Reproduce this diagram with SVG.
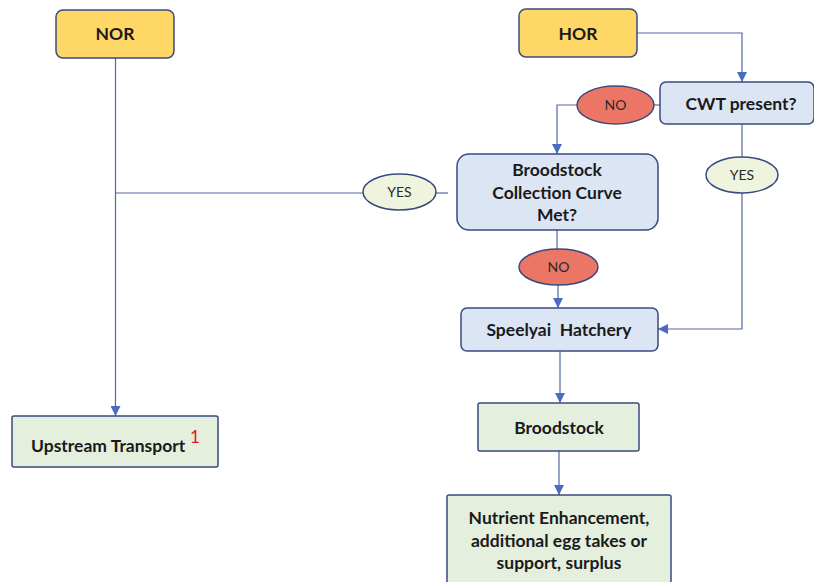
<svg xmlns="http://www.w3.org/2000/svg" width="814" height="582" viewBox="0 0 814 582">
<defs>
<marker id="ah" viewBox="0 0 10 10" refX="10" refY="5" markerWidth="10" markerHeight="10" markerUnits="userSpaceOnUse" orient="auto">
<path d="M0,0 L10,5 L0,10 z" fill="#4A6BC0"/>
</marker>
<style>
.t{font-family:Lato,"Open Sans","Liberation Sans",sans-serif;font-weight:bold;font-size:17.5px;fill:#1a1a1a;text-anchor:middle}
.s{font-family:Lato,"Open Sans","Liberation Sans",sans-serif;font-size:14px;fill:#2a2a2a;text-anchor:middle}
.y{fill:#FFD766;stroke:#3A4A80;stroke-width:1.5}
.b{fill:#DCE5F4;stroke:#3A4A80;stroke-width:1.5}
.g{fill:#E4EFDD;stroke:#3A4A80;stroke-width:1.5}
.no{fill:#EB7665;stroke:#3A4A80;stroke-width:1.5}
.yes{fill:#EEF4DE;stroke:#3A4A80;stroke-width:1.5}
.c{fill:none;stroke:#5566A8;stroke-width:1.2}
</style>
</defs>
<g id="connectors">
<path class="c" d="M115.5,58 V416" marker-end="url(#ah)"/>
<path class="c" d="M115.5,193 H363"/>
<path class="c" d="M436,193 H448"/>
<path class="c" d="M637,33 H742 V82" marker-end="url(#ah)"/>
<path class="c" d="M660,105 H654"/>
<path class="c" d="M577,105 H557 V154" marker-end="url(#ah)"/>
<path class="c" d="M742,124 V157"/>
<path class="c" d="M742,193 V329 H658" marker-end="url(#ah)"/>
<path class="c" d="M557,230 V249"/>
<path class="c" d="M558,285 V308" marker-end="url(#ah)"/>
<path class="c" d="M560,351 V403" marker-end="url(#ah)"/>
<path class="c" d="M559,451 V495" marker-end="url(#ah)"/>
</g>
<g id="nor">
<rect class="y" x="56" y="10" width="118" height="48" rx="7"/>
<text class="t" x="115" y="40">NOR</text>
</g>
<g id="hor">
<rect class="y" x="519" y="9" width="118" height="48" rx="7"/>
<text class="t" x="578" y="40">HOR</text>
</g>
<g id="cwt">
<rect class="b" x="660" y="82" width="154" height="42" rx="6"/>
<text class="t" x="741" y="110">CWT present?</text>
</g>
<g id="no1">
<ellipse class="no" cx="615.5" cy="105" rx="38.5" ry="19"/>
<text class="s" x="615.5" y="110">NO</text>
</g>
<g id="bcc">
<rect class="b" x="457" y="154" width="201" height="76" rx="12"/>
<text class="t" x="557" y="176">Broodstock</text>
<text class="t" x="557" y="199">Collection Curve</text>
<text class="t" x="557" y="221">Met?</text>
</g>
<g id="yes1">
<ellipse class="yes" cx="399.5" cy="192" rx="36.5" ry="18"/>
<text class="s" x="399.5" y="197">YES</text>
</g>
<g id="yes2">
<ellipse class="yes" cx="742" cy="175" rx="36" ry="18"/>
<text class="s" x="742" y="180">YES</text>
</g>
<g id="no2">
<ellipse class="no" cx="558.5" cy="267" rx="39.5" ry="18"/>
<text class="s" x="558.5" y="272">NO</text>
</g>
<g id="speelyai">
<rect class="b" x="461" y="308" width="197" height="43" rx="6"/>
<text class="t" x="559" y="336" xml:space="preserve">Speelyai  Hatchery</text>
</g>
<g id="upstream">
<rect class="g" x="12" y="416" width="206" height="51" rx="2"/>
<text class="t" x="31" y="452" style="text-anchor:start">Upstream Transport</text>
<text x="190" y="443" style="font-family:Lato,'Liberation Sans',sans-serif;font-size:17px;fill:#E8141E">1</text>
</g>
<g id="broodstock">
<rect class="g" x="478" y="403" width="161" height="48" rx="2"/>
<text class="t" x="559" y="434">Broodstock</text>
</g>
<g id="nutrient">
<rect class="g" x="447" y="495" width="224" height="90" rx="2"/>
<text class="t" x="559" y="524">Nutrient Enhancement,</text>
<text class="t" x="559" y="547">additional egg takes or</text>
<text class="t" x="559" y="569">support, surplus</text>
</g>
</svg>
